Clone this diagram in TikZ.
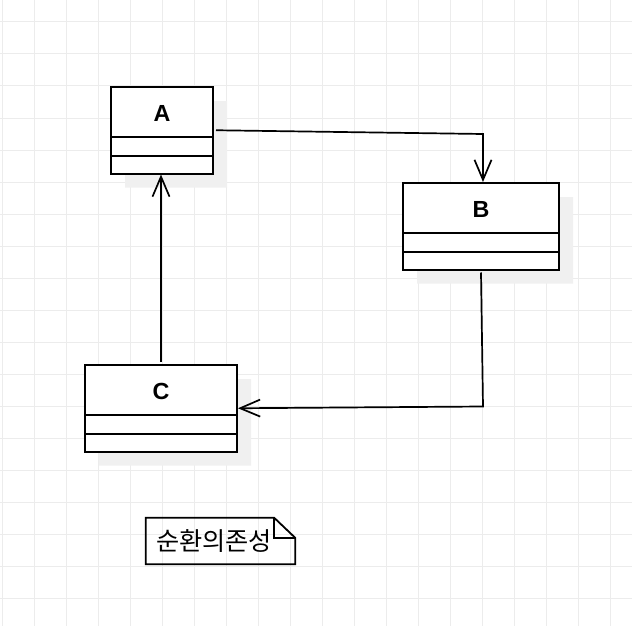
\documentclass[tikz,border=0pt]{standalone}
\usepackage{fontspec}
\setmainfont{Liberation Sans}
\newfontfamily\krfont{Noto Sans CJK KR}
\usetikzlibrary{arrows.meta,shapes.multipart,shadows,calc}
\definecolor{gridc}{RGB}{236,236,236}
\definecolor{shadowc}{RGB}{240,240,240}
\newcommand{\clsparts}[1]{\rule[-13.7pt]{0pt}{47.5pt}#1\nodepart{second}\rule{0pt}{17.5pt}\nodepart{third}\rule{0pt}{15.5pt}}
\begin{document}
\begin{tikzpicture}[x=1pt,y=-1pt,
  umlclass/.style={rectangle split, rectangle split parts=3, draw=black, line width=2pt,
    fill=white, inner sep=0pt, align=center, anchor=north west,
    font=\fontsize{23.3}{26}\selectfont\bfseries,
    general shadow={fill=shadowc, shadow xshift=14pt, shadow yshift=-14pt}},
  dep/.style={line width=1.7pt, -{Straight Barb[length=20pt,width=17pt]}},
  notebox/.style={minimum width=149pt, minimum height=46pt, text width=129pt, inner xsep=10pt,
    inner ysep=0pt, align=left, font=\krfont\fontsize{25.2}{28}\selectfont},
  noteline/.style={line width=1.8pt, line join=miter},
  gridline/.style={draw=gridc, line width=1pt}
]
\fill[white] (0,0) rectangle (632,626);
\useasboundingbox (0,0) rectangle (632,626);
\foreach \x in {2,34,...,610} \draw[gridline] (\x,0) -- (\x,626);
\foreach \y in {22,54,...,598} \draw[gridline] (0,\y) -- (632,\y);

\node[umlclass, text width=102pt] (A) at (110,86) {\clsparts{A}};
\node[umlclass, text width=156pt] (B) at (402,182) {\clsparts{B}};
\node[umlclass, text width=152pt] (C) at (84,364) {\clsparts{C}};

\draw[dep] ([xshift=2pt]A.east) -- ($(B.north)+(2,-48)$) -- ($(B.north)+(2,0)$);
\draw[dep] ([yshift=-2pt]B.south) -- ($(B.south)+(2,136)$) -- (C.east);
\draw[dep] ([yshift=2pt]C.north) -- (C.north |- A.south);

\node[notebox] (N) at (220.5,541) {순환의존성};
\draw[noteline] (N.south west) -- (N.north west) -- ([xshift=-21pt]N.north east)
  -- ([yshift=-20pt]N.north east) -- (N.south east) -- cycle;
\draw[noteline] ([xshift=-21pt]N.north east) -- ([xshift=-21pt,yshift=-20pt]N.north east)
  -- ([yshift=-20pt]N.north east);
\end{tikzpicture}
\end{document}
